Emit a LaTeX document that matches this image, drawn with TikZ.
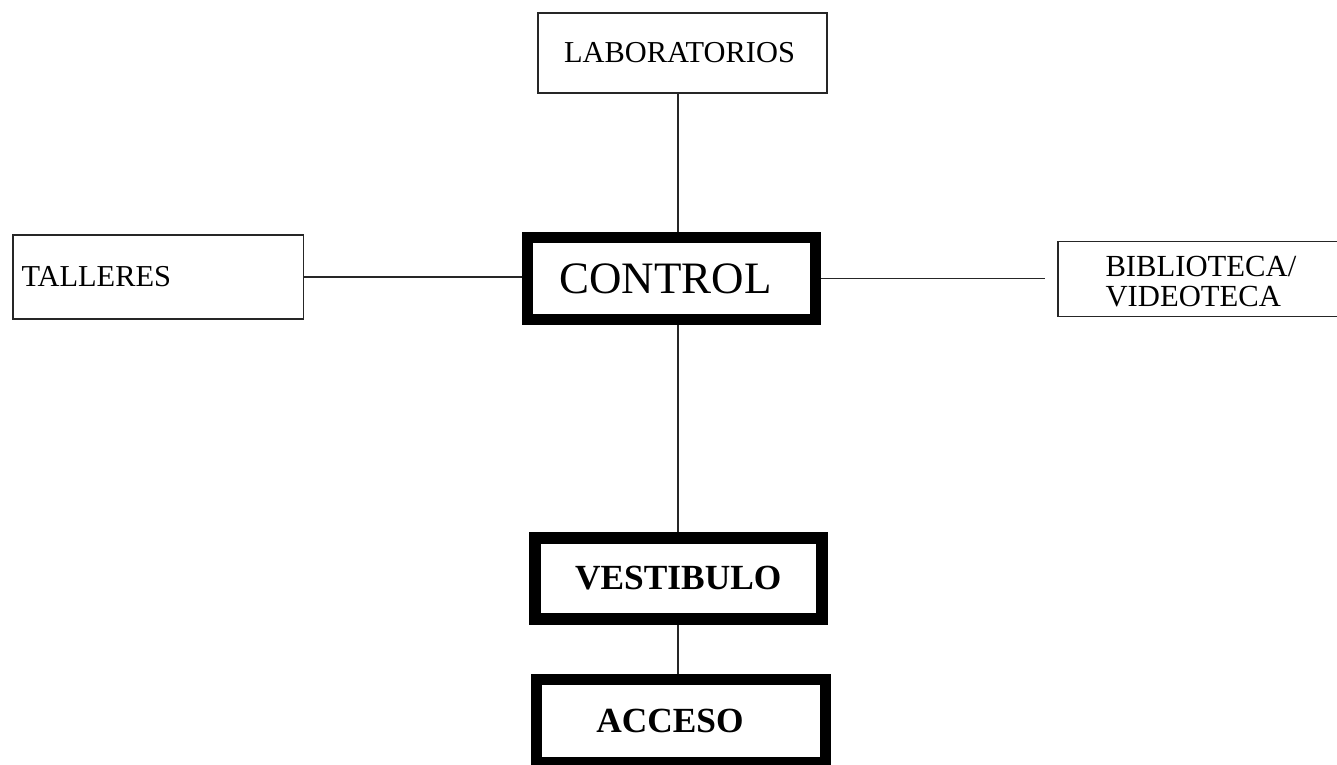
\documentclass[tikz,border=0pt]{standalone}
\usepackage{fontspec}
\setmainfont{Liberation Serif}
\begin{document}
\begin{tikzpicture}[x=0.75pt,y=-0.75pt,
  thinbox/.style={draw=black!85,line width=0.8pt,inner sep=0pt,font=\fontsize{22.8}{24}\selectfont},
  thickbox/.style={draw=black,inner sep=0pt,font=\bfseries\fontsize{26.5}{28}\selectfont},
  link/.style={draw=black!85,line width=0.9pt}]
\useasboundingbox (0,0) rectangle (1337,764);
\clip (0,0) rectangle (1337,764);
\node[thinbox,minimum width=216.75pt,minimum height=60pt] (lab) at (682.5,53) {LABORATORIOS\hspace*{4.5pt}};
\node[thinbox,minimum height=63pt,text width=204.75pt,inner xsep=6.4pt,align=left] (tall) at (158,277) {TALLERES};
\node[thickbox,line width=8.25pt,minimum width=216pt,minimum height=61.5pt,font=\fontsize{33.7}{36}\selectfont] (ctrl) at (671.5,278.5) {CONTROL\hspace*{9pt}};
\node[thinbox,draw=none,minimum height=55.5pt,text width=200.25pt,inner xsep=35.25pt,align=left,font=\fontsize{23}{22.5}\selectfont] (bib) at (1239,282) {BIBLIOTECA/\\VIDEOTECA};
\draw[black!85,line width=0.8pt] ([yshift=2.25pt]bib.north east) -- ([yshift=2.25pt]bib.north west) -- ([yshift=2.25pt]bib.south west) -- ([yshift=2.25pt]bib.south east);
\node[thickbox,line width=9pt,minimum width=215.6pt,minimum height=60.4pt] (vest) at (678.25,578.25) {VESTIBULO};
\node[thickbox,line width=8.25pt,minimum width=216.4pt,minimum height=62.6pt] (acc) at (681.25,720.75) {ACCESO\hspace*{17pt}};
\coordinate (vx) at (678,0);
\coordinate (bend) at (1045,281);
\draw[link] (lab.south -| vx) -- (ctrl.north -| vx);
\draw[link] (tall.east) -- (tall.east -| ctrl.west);
\draw[link] (ctrl.east) -- (ctrl.east -| bend);
\draw[link] (ctrl.south -| vx) -- (vest.north -| vx);
\draw[link] (vest.south -| vx) -- (acc.north -| vx);
\end{tikzpicture}
\end{document}
